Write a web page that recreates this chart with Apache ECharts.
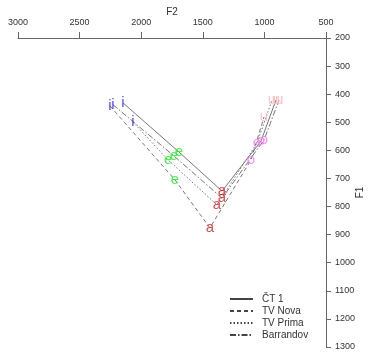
<!DOCTYPE html>
<html>
<head>
<meta charset="utf-8">
<script src="https://cdn.jsdelivr.net/npm/echarts@6/dist/echarts.min.js"></script>
<style>html,body{margin:0;padding:0;background:#fff;}#c{width:371px;height:353px;}</style>
</head>
<body>
<div id="c"></div>
<script>
var vowels = ['i', 'e', 'a', 'o', 'u'];
var vowelColors = ['#1f1fff', '#22ee22', '#cd2626', '#ee82ee', '#ffb6c1'];
var channels = ['ČT 1', 'TV Nova', 'TV Prima', 'Barrandov'];
var lineTypes = ['solid', [4, 3], [1.5, 2], [6, 2, 1.5, 2]];

var ct1F2 = [2148, 1693, 1344, 1028, 906];
var ct1F1 = [431, 606, 745, 567, 421];
var novaF2 = [2253, 1726, 1442, 1109, 1003];
var novaF1 = [442, 705, 876, 634, 481];
var primaF2 = [2067, 1782, 1385, 1060, 938];
var primaF1 = [499, 634, 794, 574, 421];
var barrF2 = [2230, 1734, 1344, 1003, 881];
var barrF1 = [437, 620, 770, 563, 421];

var xTicks = [500, 1000, 1500, 2000, 2500, 3000];
var yTicks = [200, 300, 400, 500, 600, 700, 800, 900, 1000, 1100, 1200, 1300];

var allF2 = [ct1F2, novaF2, primaF2, barrF2];
var allF1 = [ct1F1, novaF1, primaF1, barrF1];

var series = [];
channels.forEach(function (name, s) {
  series.push({
    name: name,
    type: 'line',
    symbol: 'none',
    silent: true,
    z: 2,
    color: '#555',
    lineStyle: { color: '#777', width: 1, type: lineTypes[s] },
    data: vowels.map(function (v, k) { return [allF2[s][k], allF1[s][k]]; })
  });
});
var labelData = [];
channels.forEach(function (name, s) {
  vowels.forEach(function (v, k) {
    labelData.push({
      value: [allF2[s][k], allF1[s][k]],
      vowel: v,
      label: { color: vowelColors[k] }
    });
  });
});
series.push({
  type: 'scatter',
  symbolSize: 1,
  itemStyle: { color: 'rgba(0,0,0,0)' },
  z: 5,
  silent: true,
  label: {
    show: true,
    position: 'inside',
    fontFamily: 'Liberation Sans, Arial, sans-serif',
    fontSize: 15,
    formatter: function (p) { return p.data.vowel; }
  },
  labelLayout: { hideOverlap: false },
  data: labelData
});

var axisColor = '#666';
var chart = echarts.init(document.getElementById('c'));
chart.setOption({
  animation: false,
  backgroundColor: '#fff',
  grid: { left: 18, right: 45, top: 38, bottom: 6, outerBoundsMode: 'none', containLabel: false },
  legend: {
    data: channels,
    orient: 'vertical',
    left: 224,
    top: 289,
    itemWidth: 23,
    itemHeight: 8,
    itemGap: 2,
    itemStyle: { opacity: 0 },
    lineStyle: { color: '#444' },
    textStyle: { fontSize: 10, color: '#333', fontFamily: 'Liberation Sans, Arial, sans-serif', padding: [0, 0, 0, 4] },
    selectedMode: false
  },
  xAxis: {
    type: 'value',
    position: 'top',
    inverse: true,
    min: 500,
    max: 3000,
    interval: 500,
    name: 'F2',
    nameLocation: 'middle',
    nameGap: 21,
    nameMoveOverlap: false,
    nameTextStyle: { fontSize: 10, color: '#333', fontFamily: 'Liberation Sans, Arial, sans-serif' },
    axisLine: { show: true, lineStyle: { color: axisColor } },
    axisTick: { show: true, length: 6, lineStyle: { color: axisColor } },
    axisLabel: { fontSize: 9, color: '#333', margin: 11, fontFamily: 'Liberation Sans, Arial, sans-serif', formatter: function (v) { return String(v); } },
    splitLine: { show: false }
  },
  yAxis: {
    type: 'value',
    position: 'right',
    inverse: true,
    min: 200,
    max: 1300,
    interval: 100,
    name: 'F1',
    nameLocation: 'middle',
    nameGap: 29,
    nameRotate: 90,
    nameMoveOverlap: false,
    nameTextStyle: { fontSize: 10, color: '#333', fontFamily: 'Liberation Sans, Arial, sans-serif' },
    axisLine: { show: true, onZero: false, lineStyle: { color: axisColor } },
    axisTick: { show: true, length: 5, lineStyle: { color: axisColor } },
    axisLabel: { fontSize: 9, color: '#333', margin: 9, fontFamily: 'Liberation Sans, Arial, sans-serif', formatter: function (v) { return String(v); } },
    splitLine: { show: false }
  },
  series: series
});
</script>
</body>
</html>
